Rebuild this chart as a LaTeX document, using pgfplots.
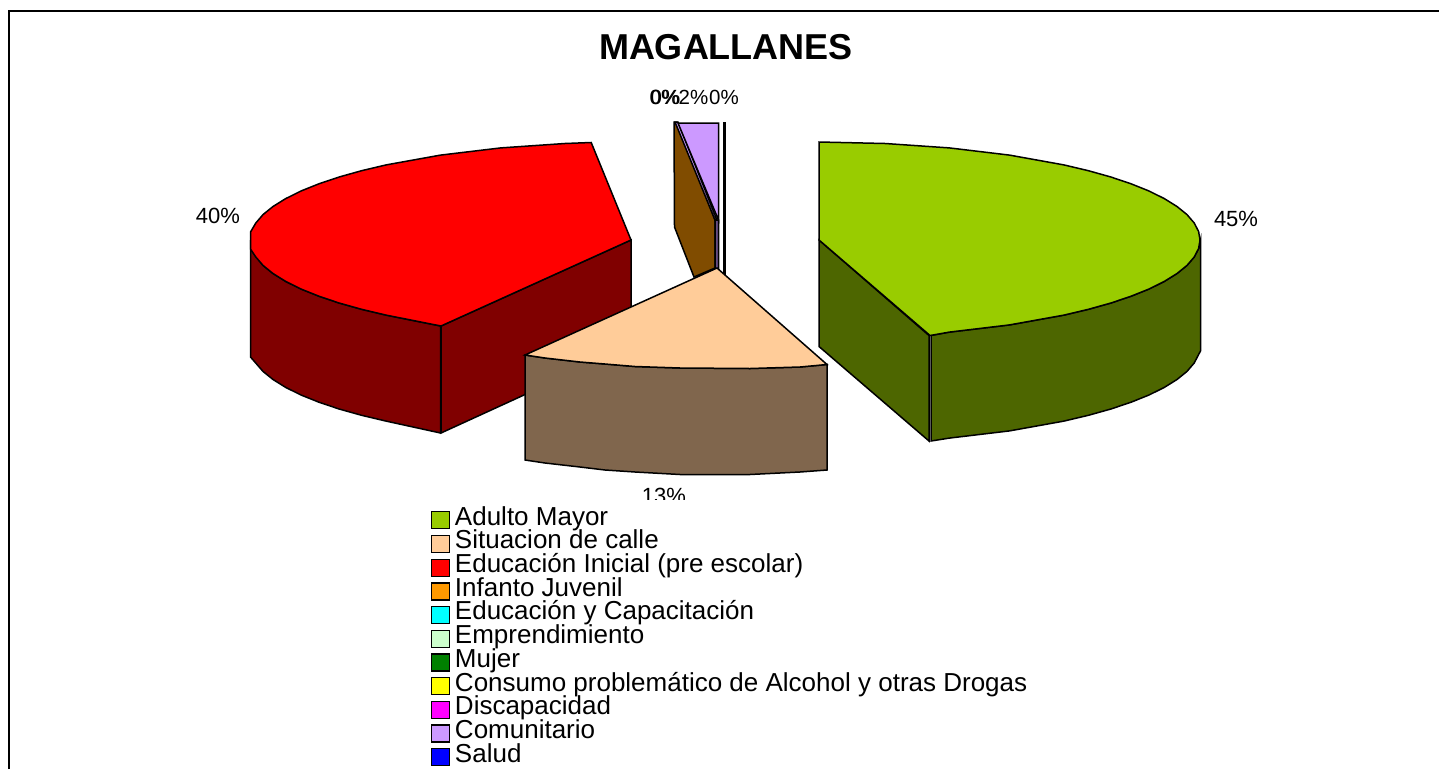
\documentclass[border=0pt]{standalone}
\usepackage{pgfplots}
\pgfplotsset{compat=1.18}
\usepackage{fontspec}
\setmainfont{Liberation Sans}
\definecolor{gTop}{HTML}{99CC00}\definecolor{gSide}{HTML}{4D6600}
\definecolor{rTop}{HTML}{FF0000}\definecolor{rSide}{HTML}{800000}
\definecolor{pTop}{HTML}{FFCC99}\definecolor{pSide}{HTML}{80664D}
\definecolor{oTop}{HTML}{FF9900}\definecolor{oSide}{HTML}{804C00}
\definecolor{vTop}{HTML}{CC99FF}\definecolor{vSide}{HTML}{664C80}
\definecolor{lCyan}{HTML}{00FFFF}\definecolor{lMint}{HTML}{CCFFCC}
\definecolor{lDark}{HTML}{008000}\definecolor{lYel}{HTML}{FFFF00}
\definecolor{lMag}{HTML}{FF00FF}\definecolor{lBlue}{HTML}{0000FF}
\newcommand{\legsq}[1]{\addlegendimage{legend image code/.code={\draw[draw=black,line width=1.3pt,fill=#1] (0pt,-9pt) rectangle (17.5pt,8pt);}}}
\begin{document}
\begin{tikzpicture}
\path[use as bounding box] (0,0) rectangle (1439pt,769pt);
\begin{axis}[
  width=1439pt,height=769pt,scale only axis,
  xmin=0,xmax=1439,ymin=0,ymax=769,y dir=reverse,
  axis lines=none,clip=false,
  legend cell align=left,
  legend style={at={(0.2995,0.3398)},anchor=north west,draw=none,fill=none,inner sep=0pt,
    font=\fontsize{26}{26}\selectfont,row sep=0pt,column sep=3pt,
    nodes={inner xsep=2pt,inner ysep=0pt,text height=17.2pt,text depth=6.5pt}},
]
% frame
\addplot[black,line width=1.5pt,forget plot] coordinates {(9,769)(9,11)(1439,11)};
% red slice
\addplot[draw=black,line width=1.5pt,fill=rSide,forget plot] coordinates {(441,326)(631,240)(631,346)(441,433)} -- cycle;
\addplot[draw=black,line width=1.5pt,fill=rSide,forget plot] coordinates {(250.5,240)(250.5,249)(263,265.4)(273,273.5)(285.7,281.4)(301,289)(318.9,296.2)(339.1,303)(361.6,309.3)(386.1,315.1)(440.5,326)(440.5,433)(386.1,421.1)(361.6,415.3)(339.1,409)(318.9,402.2)(301,395)(285.7,387.4)(273,379.5)(263,371.4)(250.5,357)} -- cycle;
\addplot[draw=black,line width=1.5pt,fill=rTop,forget plot] coordinates {(631,240)(591.2,142.5)(564.8,143.5)(500.7,147.9)(440.5,155.1)(386.1,164.9)(361.6,170.7)(339.1,177)(318.9,183.8)(301,191)(285.7,198.6)(273,206.5)(263,214.6)(255.8,223)(250.5,232)(250.5,249)(255.8,257)(263,265.4)(273,273.5)(285.7,281.4)(301,289)(318.9,296.2)(339.1,303)(361.6,309.3)(386.1,315.1)(441,326)} -- cycle;
% small slices
\addplot[draw=black,line width=1.5pt,fill=oSide,forget plot] coordinates {(674,122)(674.5,227)(694,277)(715,268)(715,220)(677,122)} -- cycle;
\addplot[draw=black,line width=1.5pt,fill=vSide,forget plot] coordinates {(715,220)(718.5,220)(718.5,270)(715,268)} -- cycle;
\addplot[draw=black,line width=1.5pt,fill=vTop,forget plot] coordinates {(675,122)(678,122)(717,220)(715,220)} -- cycle;
\addplot[draw=black,line width=1.5pt,fill=vTop,forget plot] coordinates {(678,123)(718.5,123)(718.5,220)} -- cycle;
\addplot[black,line width=3pt,forget plot] coordinates {(724,122)(724,277)};
% peach slice
\addplot[draw=black,line width=1.5pt,fill=pSide,forget plot] coordinates {(525,355)(545,358)(580,362)(605,364)(635,366.5)(680,368)(750,368.5)(800,367)(827,364.5)(827,470)(800,472)(750,474.5)(680,474.5)(635,472)(605,470)(580,467)(545,463)(525,460)} -- cycle;
\addplot[draw=black,line width=1.5pt,fill=pTop,forget plot] coordinates {(717,268)(525,355)(545,358)(580,362)(605,364)(635,366.5)(680,368)(750,368.5)(800,367)(827,364.5)} -- cycle;
% green slice
\addplot[draw=black,line width=1.5pt,fill=gSide,forget plot] coordinates {(819,240)(929,335.5)(929,441)(819,346.5)} -- cycle;
\addplot[draw=black,line width=1.5pt,fill=gSide,forget plot] coordinates {(931,335.5)(949.3,332.1)(1009.5,324.9)(1063.9,315.1)(1088.4,309.3)(1110.9,303)(1131.1,296.2)(1149,289)(1164.3,281.4)(1177,273.5)(1187,265.4)(1194.2,257)(1198.6,248.5)(1200.5,240)(1200.5,351)(1198.6,354.5)(1194.2,363)(1187,371.4)(1177,379.5)(1164.3,387.4)(1149,395)(1131.1,402.2)(1110.9,409)(1088.4,415.3)(1063.9,421.1)(1009.5,430.9)(949.3,438.1)(931,441)} -- cycle;
\addplot[draw=black,line width=1.5pt,fill=gTop,forget plot] coordinates {(819,240)(819,142)(885.2,143.5)(949.3,147.9)(1009.5,155.1)(1063.9,164.9)(1088.4,170.7)(1110.9,177)(1131.1,183.8)(1149,191)(1164.3,198.6)(1177,206.5)(1187,214.6)(1194.2,223)(1198.6,231.5)(1200,240)(1198.6,248.5)(1194.2,257)(1187,265.4)(1177,273.5)(1164.3,281.4)(1149,289)(1131.1,296.2)(1110.9,303)(1088.4,309.3)(1063.9,315.1)(1009.5,324.9)(949.3,332.1)(930,335.5)} -- cycle;
% labels
\node[font=\fontsize{22}{24}\selectfont,inner sep=0pt] at (axis cs:1236,219) {45\%};
\node[font=\fontsize{22}{24}\selectfont,inner sep=0pt] at (axis cs:218,216) {40\%};
\node[font=\fontsize{22}{24}\selectfont,inner sep=0pt] at (axis cs:664,495.5) {13\%};
\node[font=\fontsize{20.5}{24}\selectfont,inner sep=0pt] at (axis cs:664.5,97) {0\%};
\node[font=\fontsize{20.5}{24}\selectfont,inner sep=0pt] at (axis cs:665.5,97) {0\%};
\node[font=\fontsize{20.5}{24}\selectfont,inner sep=0pt] at (axis cs:693.5,97) {2\%};
\node[font=\fontsize{20.5}{24}\selectfont,inner sep=0pt] at (axis cs:724,97) {0\%};
\addplot[draw=none,fill=white,forget plot] coordinates {(600,500)(740,500)(740,508)(600,508)} -- cycle;
\node[font=\bfseries\fontsize{36}{38}\selectfont,inner sep=0pt] at (axis cs:726,47) {MAGALLANES};
% legend
\legsq{gTop}\addlegendentry{Adulto Mayor}
\legsq{pTop}\addlegendentry{Situacion de calle}
\legsq{rTop}\addlegendentry{Educación Inicial (pre escolar)}
\legsq{oTop}\addlegendentry{Infanto Juvenil}
\legsq{lCyan}\addlegendentry{Educación y Capacitación}
\legsq{lMint}\addlegendentry{Emprendimiento}
\legsq{lDark}\addlegendentry{Mujer}
\legsq{lYel}\addlegendentry{Consumo problemático de Alcohol y otras Drogas}
\legsq{lMag}\addlegendentry{Discapacidad}
\legsq{vTop}\addlegendentry{Comunitario}
\legsq{lBlue}\addlegendentry{Salud}
\end{axis}
\end{tikzpicture}
\end{document}
